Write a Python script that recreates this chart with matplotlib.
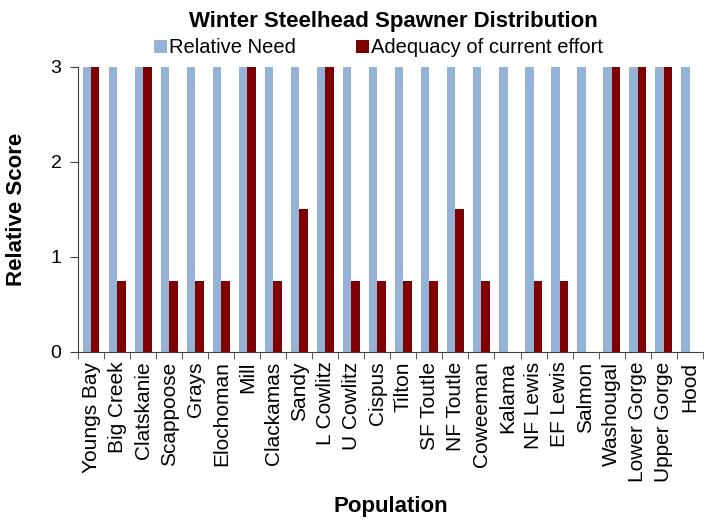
import numpy as np
import matplotlib.pyplot as plt

plt.rcParams['font.family'] = ['Liberation Sans', 'DejaVu Sans']

populations = ['Youngs Bay', 'Big Creek', 'Clatskanie', 'Scappoose', 'Grays',
               'Elochoman', 'Mill', 'Clackamas', 'Sandy', 'L Cowlitz',
               'U Cowlitz', 'Cispus', 'Tilton', 'SF Toutle', 'NF Toutle',
               'Coweeman', 'Kalama', 'NF Lewis', 'EF Lewis', 'Salmon',
               'Washougal', 'Lower Gorge', 'Upper Gorge', 'Hood']
relative_need = [3] * 24
adequacy = [3, 0.75, 3, 0.75, 0.75, 0.75, 3, 0.75, 1.5, 3,
            0.75, 0.75, 0.75, 0.75, 1.5, 0.75, 0, 0.75, 0.75, 0,
            3, 3, 3, 0]

x = np.arange(len(populations))
w = 0.32

fig = plt.figure(figsize=(7.17, 5.22), dpi=100)
ax = fig.add_axes([0.109, 0.326, 0.871, 0.546])

ax.bar(x - w / 2, relative_need, w, color='#95B3D7', label='Relative Need')
ax.bar(x + w / 2, adequacy, w, color='#7F0000', label='Adequacy of current effort')

ax.set_xlim(-0.5, len(populations) - 0.5)
ax.set_ylim(0, 3)
ax.set_yticks([0, 1, 2, 3])
ax.tick_params(axis='y', labelsize=14, length=6, direction='out', pad=6)
ax.set_xticks(x)
ax.set_xticklabels(populations, rotation=90, fontsize=15)
ax.tick_params(axis='x', length=0, pad=7)
ax.set_xticks(np.arange(-0.5, len(populations)), minor=True)
ax.tick_params(axis='x', which='minor', length=5, direction='out')

for side in ['top', 'right']:
    ax.spines[side].set_visible(False)
ax.spines['left'].set_color('#404040')
ax.spines['bottom'].set_color('#404040')
ax.tick_params(which='both', color='#404040')

ax.set_ylabel('Relative Score', fontsize=16, fontweight='bold')
ax.yaxis.set_label_coords(-0.082, 0.5)
fig.text(0.545, 0.01, 'Population', ha='center', va='bottom',
         fontsize=16, fontweight='bold')
fig.text(0.548, 0.978, 'Winter Steelhead Spawner Distribution', ha='center',
         va='top', fontsize=16, fontweight='bold')

fig.legend(loc='upper center', bbox_to_anchor=(0.528, 0.942), ncol=2,
           frameon=False, fontsize=14.5, handlelength=0.65, handleheight=0.65,
           handletextpad=0.1, columnspacing=3.0, borderaxespad=0)

fig.savefig('out.png', dpi=100)
